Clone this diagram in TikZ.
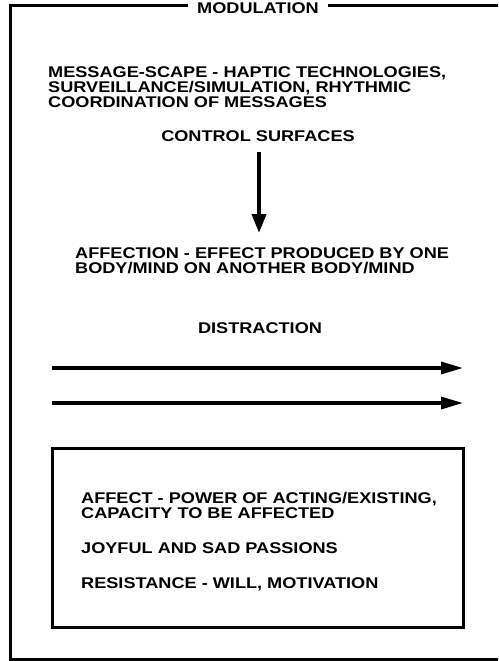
\documentclass[tikz,border=0pt]{standalone}
\usepackage{fontspec}
\setmainfont[FakeStretch=1.17]{Liberation Sans}
\usetikzlibrary{arrows.meta}
\tikzset{
  txt/.style={inner sep=0pt, font=\fontsize{15.5}{15}\selectfont\bfseries, align=left},
  frameline/.style={line width=3pt},
  boxline/.style={line width=3pt},
  vertarrow/.style={line width=4pt, -{Triangle[length=19pt,width=14pt]}},
  horarrow/.style={line width=3.3pt, -{Triangle[length=22pt,width=12pt]}},
}
\begin{document}
\begin{tikzpicture}[x=1pt,y=-1pt]
\useasboundingbox (0,0) rectangle (498,661);
\clip (0,0) rectangle (498,661);
% outer frame (right side beyond picture)
\draw[frameline] (515,6) -- (10,6) -- (10,659) -- (515,659);
\node[txt, fill=white, inner xsep=9pt, inner ysep=2pt] (title) at (258,8) {MODULATION};
% message-scape (base anchor = last line)
\node[txt, anchor=base west] (msg) at (48,107) {MESSAGE-SCAPE - HAPTIC TECHNOLOGIES,\\SURVEILLANCE/SIMULATION, RHYTHMIC\\COORDINATION OF MESSAGES};
\node[txt] (control) at (258,136) {CONTROL SURFACES};
\coordinate (v1) at (259,152);
\coordinate (v2) at (259,233);
\draw[vertarrow] (v1) -- (v2);
\node[txt, anchor=base west] (affection) at (75,273) {AFFECTION - EFFECT PRODUCED BY ONE\\BODY/MIND ON ANOTHER BODY/MIND};
\node[txt] (distraction) at (260,328) {DISTRACTION};
\coordinate (h1a) at (52,368);
\coordinate (h1b) at (463,368);
\coordinate (h2a) at (52,403);
\coordinate (h2b) at (463,403);
\draw[horarrow] (h1a) -- (h1b);
\draw[horarrow] (h2a) -- (h2b);
% inner box
\node[boxline, draw, minimum width=411pt, minimum height=179pt, inner sep=0pt] (box) at (257.5,537.5) {};
\node[txt, anchor=base west] (affect) at (81,518.5) {AFFECT - POWER OF ACTING/EXISTING,\\CAPACITY TO BE AFFECTED};
\node[txt, anchor=base west] (joy) at (81,553.5) {JOYFUL AND SAD PASSIONS};
\node[txt, anchor=base west] (resist) at (81,588.5) {RESISTANCE - WILL, MOTIVATION};
\end{tikzpicture}
\end{document}
